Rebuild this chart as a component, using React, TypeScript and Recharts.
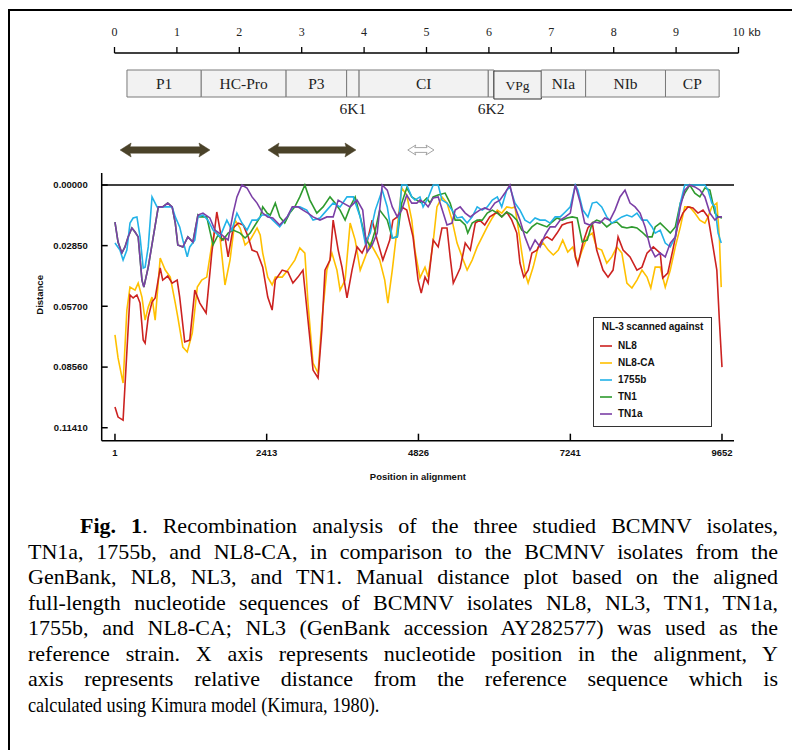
import React from 'react';
import { LineChart, Line, XAxis, YAxis, ReferenceLine, ReferenceArea, Legend } from 'recharts';

const SANS = '"Liberation Sans", Arial, sans-serif';
const SERIF = '"Liberation Serif", "Times New Roman", serif';

// ---- genome map (kb) ----
const KB_TICKS = [0, 1, 2, 3, 4, 5, 6, 7, 8, 9, 10];
const GENE_NAMES = ['P1', 'HC-Pro', 'P3', '6K1', 'CI', '6K2', 'VPg', 'NIa', 'NIb', 'CP'];
const GENE_BOUNDS_KB = [0.2, 1.39, 2.75, 3.72, 3.92, 5.99, 6.08, 6.84, 7.55, 8.83, 9.69];
const RECOMB_START_KB = [0.09, 2.46, 4.7];
const RECOMB_END_KB = [1.53, 3.87, 5.12];
const RECOMB_SUPPORTED = [true, true, false];

// ---- distance plot ----
const POSITION_TICKS = [1, 2413, 4826, 7241, 9652];
const DISTANCE_TICKS = [0, 0.0285, 0.057, 0.0856, 0.1141];

const SERIES_NAMES = ['NL8', 'NL8-CA', '1755b', 'TN1', 'TN1a'];
const SERIES_COLORS = ['#CC2220', '#FFC000', '#22B2E8', '#2E9A2E', '#7B3FA6'];
const DRAW_ORDER = ['NL8-CA', 'NL8', 'TN1', '1755b', 'TN1a'];

const NL8: number[][] = [
  [1,0.1044],[50,0.1091],[130,0.1105],[240,0.0517],[290,0.0531],[350,0.0517],[400,0.0555],[450,0.0729],[480,0.0743],
  [530,0.0621],[590,0.0550],[640,0.0531],[720,0.0390],[760,0.0447],[840,0.0428],[910,0.0461],[990,0.0447],[1030,0.0527],
  [1110,0.0738],[1190,0.0729],[1270,0.0494],[1350,0.0555],[1450,0.0602],[1540,0.0320],[1620,0.0127],[1700,0.0259],
  [1750,0.0244],[1800,0.0338],[1880,0.0202],[1960,0.0179],[2040,0.0188],[2120,0.0244],[2180,0.0306],[2260,0.0315],
  [2350,0.0386],[2430,0.0527],[2500,0.0588],[2550,0.0447],[2660,0.0400],[2750,0.0409],[2830,0.0461],[2910,0.0433],
  [2990,0.0400],[3070,0.0635],[3150,0.0870],[3230,0.0907],[3290,0.0682],[3340,0.0400],[3420,0.0353],[3470,0.0165],
  [3550,0.0306],[3610,0.0386],[3690,0.0531],[3770,0.0400],[3850,0.0291],[3930,0.0320],[4010,0.0268],[4090,0.0165],
  [4170,0.0259],[4260,0.0353],[4370,0.0259],[4420,0.0165],[4490,0.0150],[4560,0.0103],[4640,0.0118],[4740,0.0244],
  [4820,0.0447],[4870,0.0508],[4930,0.0433],[4980,0.0461],[5060,0.0259],[5140,0.0291],[5200,0.0202],[5280,0.0202],
  [5330,0.0338],[5380,0.0461],[5440,0.0423],[5490,0.0390],[5570,0.0273],[5650,0.0306],[5730,0.0179],[5800,0.0165],
  [5880,0.0188],[5960,0.0150],[6080,0.0127],[6150,0.0150],[6230,0.0127],[6310,0.0165],[6390,0.0226],[6440,0.0367],
  [6500,0.0433],[6570,0.0400],[6630,0.0320],[6710,0.0306],[6790,0.0259],[6870,0.0244],[6950,0.0259],[7030,0.0226],
  [7110,0.0188],[7190,0.0179],[7270,0.0174],[7320,0.0338],[7360,0.0376],[7440,0.0273],[7520,0.0202],[7590,0.0179],
  [7660,0.0306],[7760,0.0400],[7840,0.0433],[7920,0.0400],[8000,0.0244],[8080,0.0306],[8190,0.0338],[8300,0.0400],
  [8380,0.0386],[8460,0.0320],[8560,0.0291],[8670,0.0320],[8710,0.0437],[8790,0.0414],[8870,0.0306],[8950,0.0188],
  [9030,0.0132],[9110,0.0103],[9190,0.0108],[9270,0.0132],[9350,0.0118],[9430,0.0150],[9510,0.0291],[9570,0.0400],
  [9610,0.0635],[9652,0.0856],
];

const NL8_CA: number[][] = [
  [1,0.0705],[50,0.0813],[130,0.0931],[190,0.0588],[240,0.0480],[320,0.0494],[370,0.0461],[430,0.0527],[480,0.0635],
  [530,0.0574],[590,0.0527],[640,0.0635],[720,0.0343],[800,0.0400],[880,0.0433],[960,0.0555],[1000,0.0621],[1080,0.0762],
  [1150,0.0785],[1230,0.0696],[1310,0.0480],[1380,0.0447],[1460,0.0433],[1540,0.0282],[1590,0.0212],[1670,0.0244],
  [1750,0.0470],[1830,0.0353],[1910,0.0165],[1990,0.0202],[2070,0.0282],[2150,0.0259],[2260,0.0202],[2310,0.0235],
  [2350,0.0320],[2430,0.0433],[2500,0.0470],[2550,0.0433],[2660,0.0433],[2750,0.0400],[2860,0.0353],[2940,0.0296],
  [3020,0.0320],[3070,0.0555],[3150,0.0837],[3230,0.0884],[3290,0.0635],[3370,0.0400],[3450,0.0320],[3530,0.0400],
  [3580,0.0494],[3660,0.0447],[3740,0.0179],[3820,0.0259],[3900,0.0400],[3980,0.0338],[4060,0.0273],[4140,0.0315],
  [4210,0.0353],[4290,0.0447],[4340,0.0555],[4410,0.0400],[4490,0.0197],[4560,0.0014],[4640,0.0047],[4720,0.0165],
  [4770,0.0306],[4850,0.0437],[4930,0.0386],[4980,0.0433],[5060,0.0268],[5120,0.0103],[5200,0.0056],[5280,0.0085],
  [5360,0.0165],[5440,0.0273],[5520,0.0338],[5600,0.0400],[5680,0.0353],[5760,0.0291],[5840,0.0244],[5920,0.0197],
  [6000,0.0155],[6080,0.0118],[6150,0.0132],[6230,0.0103],[6310,0.0108],[6360,0.0103],[6410,0.0197],[6470,0.0320],
  [6520,0.0414],[6570,0.0461],[6650,0.0386],[6730,0.0291],[6810,0.0273],[6890,0.0306],[6970,0.0329],[7050,0.0306],
  [7120,0.0259],[7200,0.0315],[7280,0.0291],[7360,0.0367],[7430,0.0306],[7510,0.0244],[7590,0.0226],[7660,0.0296],
  [7740,0.0306],[7820,0.0367],[7900,0.0338],[7980,0.0291],[8060,0.0320],[8140,0.0461],[8220,0.0484],[8300,0.0447],
  [8380,0.0400],[8460,0.0433],[8520,0.0484],[8590,0.0386],[8670,0.0386],[8750,0.0480],[8830,0.0400],[8910,0.0291],
  [8990,0.0197],[9060,0.0103],[9140,0.0103],[9220,0.0132],[9300,0.0165],[9380,0.0179],[9430,0.0150],[9490,0.0103],
  [9570,0.0085],[9610,0.0244],[9640,0.0480],
];

const B1755: number[][] = [
  [1,0.0273],[80,0.0306],[130,0.0353],[190,0.0306],[240,0.0179],[290,0.0155],[350,0.0150],[400,0.0244],[450,0.0390],
  [480,0.0386],[530,0.0291],[590,0.0056],[670,0.0103],[760,0.0103],[840,0.0103],[910,0.0103],[960,0.0150],[1030,0.0197],
  [1080,0.0259],[1150,0.0338],[1190,0.0291],[1270,0.0259],[1320,0.0150],[1400,0.0141],[1480,0.0165],[1560,0.0212],
  [1670,0.0244],[1780,0.0165],[1860,0.0212],[1940,0.0132],[2020,0.0179],[2100,0.0212],[2180,0.0165],[2260,0.0165],
  [2340,0.0141],[2430,0.0141],[2510,0.0165],[2620,0.0197],[2740,0.0150],[2830,0.0103],[2940,0.0103],[3050,0.0118],
  [3150,0.0165],[3260,0.0155],[3370,0.0118],[3470,0.0085],[3580,0.0103],[3690,0.0056],[3790,0.0056],[3900,0.0150],
  [3980,0.0273],[4060,0.0226],[4140,0.0118],[4250,0.0024],[4330,0.0103],[4410,0.0249],[4490,0.0244],[4560,0],
  [4640,0],[4720,0.0056],[4770,0.0071],[4850,0.0056],[4900,0.0103],[4980,0.0061],[5060,0],[5140,0],[5200,0.0071],
  [5280,0.0085],[5360,0.0118],[5440,0.0155],[5520,0.0150],[5600,0.0179],[5680,0.0150],[5760,0.0103],[5840,0.0118],
  [5920,0.0103],[6000,0.0071],[6080,0.0056],[6150,0.0103],[6230,0.0024],[6280,0.0009],[6360,0.0085],[6440,0.0118],
  [6520,0.0165],[6600,0.0179],[6680,0.0155],[6760,0.0165],[6840,0.0165],[6920,0.0179],[7000,0.0150],[7080,0.0150],
  [7160,0.0127],[7240,0.0103],[7320,0],[7360,0.0024],[7440,0.0118],[7520,0.0150],[7590,0.0085],[7660,0.0080],
  [7740,0.0103],[7820,0.0150],[7900,0.0179],[7980,0.0165],[8060,0.0150],[8140,0.0141],[8220,0.0150],[8300,0.0132],
  [8380,0.0165],[8460,0.0165],[8540,0.0197],[8590,0.0226],[8670,0.0212],[8750,0.0273],[8830,0.0291],[8910,0.0244],
  [8990,0.0085],[9060,0],[9380,0],[9430,0.0024],[9490,0.0085],[9540,0.0103],[9590,0.0226],[9640,0.0273],
];

const TN1: number[][] = [
  [1,0.0174],[50,0.0268],[110,0.0320],[160,0.0291],[210,0.0244],[270,0.0202],[320,0.0221],[370,0.0244],[430,0.0447],
  [460,0.0480],[530,0.0386],[610,0.0244],[690,0.0103],[760,0.0103],[840,0.0085],[910,0.0103],[960,0.0179],[1000,0.0282],
  [1080,0.0291],[1160,0.0244],[1240,0.0268],[1320,0.0141],[1350,0.0150],[1460,0.0150],[1560,0.0282],[1640,0.0235],
  [1720,0.0259],[1800,0.0226],[1880,0.0212],[1990,0.0226],[2070,0.0249],[2150,0.0226],[2230,0.0188],[2310,0.0150],
  [2350,0.0103],[2420,0.0132],[2470,0.0141],[2550,0.0085],[2620,0.0150],[2700,0.0179],[2780,0.0132],[2860,0.0103],
  [2940,0.0056],[3020,0],[3100,0.0071],[3210,0.0132],[3310,0.0103],[3420,0.0056],[3500,0.0085],[3580,0.0118],
  [3660,0.0165],[3740,0.0103],[3820,0.0056],[3900,0.0150],[3980,0.0244],[4060,0.0291],[4140,0.0212],[4210,0.0118],
  [4330,0.0165],[4410,0.0249],[4490,0.0244],[4560,0.0085],[4640,0.0014],[4720,0.0056],[4800,0.0071],[4880,0.0085],
  [4960,0.0061],[5010,0.0085],[5060,0.0056],[5140,0.0047],[5250,0.0038],[5330,0.0085],[5410,0.0165],[5490,0.0165],
  [5570,0.0188],[5610,0.0226],[5680,0.0179],[5760,0.0165],[5840,0.0165],[5920,0.0132],[6000,0.0118],[6080,0.0132],
  [6150,0.0150],[6230,0.0127],[6310,0.0141],[6390,0.0165],[6470,0.0212],[6550,0.0226],[6630,0.0197],[6710,0.0179],
  [6790,0.0188],[6870,0.0197],[6950,0.0174],[7030,0.0155],[7110,0.0165],[7190,0.0155],[7270,0.0150],[7350,0.0155],
  [7430,0.0268],[7510,0.0259],[7590,0.0179],[7660,0.0165],[7740,0.0174],[7820,0.0197],[7900,0.0179],[7980,0.0174],
  [8060,0.0197],[8140,0.0202],[8220,0.0197],[8300,0.0202],[8380,0.0221],[8460,0.0244],[8540,0.0244],[8590,0.0197],
  [8670,0.0179],[8750,0.0202],[8830,0.0226],[8910,0.0197],[8990,0.0085],[9060,0.0038],[9140,0],[9220,0.0038],
  [9300,0.0056],[9380,0.0014],[9460,0.0024],[9540,0.0132],[9590,0.0150],[9652,0.0155],
];

const TN1A: number[][] = [
  [1,0.0174],[50,0.0268],[110,0.0320],[160,0.0291],[210,0.0244],[270,0.0202],[320,0.0221],[370,0.0244],[430,0.0447],
  [460,0.0480],[530,0.0386],[610,0.0244],[690,0.0103],[760,0.0103],[840,0.0085],[910,0.0103],[960,0.0179],[1000,0.0282],
  [1080,0.0291],[1160,0.0244],[1240,0.0268],[1320,0.0141],[1400,0.0132],[1510,0.0155],[1590,0.0212],[1700,0.0235],
  [1800,0.0259],[1880,0.0132],[1940,0.0056],[2020,0],[2100,0.0014],[2180,0.0056],[2260,0.0085],[2350,0.0132],
  [2430,0.0150],[2510,0.0155],[2620,0.0188],[2740,0.0150],[2820,0.0103],[2910,0.0103],[2990,0.0118],[3070,0.0132],
  [3150,0.0150],[3260,0.0165],[3370,0.0150],[3470,0.0150],[3550,0.0071],[3630,0.0085],[3740,0.0103],[3850,0.0071],
  [3940,0.0118],[4010,0.0315],[4090,0.0282],[4170,0.0226],[4250,0],[4330,0.0024],[4410,0.0103],[4490,0.0150],
  [4560,0.0118],[4640,0.0047],[4720,0.0085],[4800,0.0085],[4850,0.0071],[4930,0.0085],[4980,0.0103],[5060,0.0061],
  [5140,0.0056],[5220,0.0132],[5280,0.0188],[5360,0.0179],[5410,0.0118],[5490,0.0103],[5570,0.0132],[5650,0.0150],
  [5730,0.0132],[5800,0.0118],[5880,0.0108],[5960,0.0118],[6040,0.0085],[6120,0.0071],[6200,0.0038],[6280,0],
  [6360,0.0103],[6440,0.0165],[6520,0.0244],[6600,0.0306],[6680,0.0259],[6760,0.0291],[6840,0.0235],[6920,0.0197],
  [7000,0.0197],[7080,0.0165],[7160,0.0150],[7240,0.0132],[7320,0],[7400,0.0085],[7470,0.0179],[7550,0.0188],
  [7630,0.0174],[7710,0.0179],[7790,0.0155],[7870,0.0165],[7950,0.0118],[8030,0.0056],[8110,0.0024],[8190,0.0085],
  [8270,0.0103],[8350,0.0132],[8430,0.0197],[8510,0.0291],[8590,0.0338],[8670,0.0320],[8750,0.0338],[8830,0.0273],
  [8910,0.0244],[8990,0.0103],[9060,0.0024],[9140,0],[9220,0.0009],[9300,0.0024],[9380,0.0056],[9460,0.0132],
  [9540,0.0165],[9590,0.0150],[9652,0.0150],
];

const SERIES_POINTS: Record<string, number[][]> = {
  'NL8': NL8, 'NL8-CA': NL8_CA, '1755b': B1755, 'TN1': TN1, 'TN1a': TN1A,
};

const LEGEND_TITLE = 'NL-3 scanned against';
const X_LABEL = 'Position in alignment';
const Y_LABEL = 'Distance';

const CAPTION_BOLD = 'Fig. 1';
const CAPTION_LINES = [
  '. Recombination analysis of the three studied BCMNV isolates,',
  'TN1a, 1755b, and NL8-CA, in comparison to the BCMNV isolates from the',
  'GenBank, NL8, NL3, and TN1. Manual distance plot based on the aligned',
  'full-length nucleotide sequences of BCMNV isolates NL8, NL3, TN1, TN1a,',
  '1755b, and NL8-CA; NL3 (GenBank accession AY282577) was used as the',
  'reference strain. X axis represents nucleotide position in the alignment, Y',
  'axis represents relative distance from the reference sequence which is',
  'calculated using Kimura model (Kimura, 1980).',
];

const KbTick = (props: any) => {
  const { x, y, payload } = props;
  const last = payload.value === KB_TICKS[KB_TICKS.length - 1];
  return (
    <g>
      <text x={x} y={y} textAnchor="middle" fontFamily={SERIF} fontSize={12} fill="#222">{payload.value}</text>
      {last && <text x={x + 10} y={y} fontFamily={SANS} fontSize={11.5} fill="#222">kb</text>}
    </g>
  );
};

const ArrowShape = (props: any) => {
  const { x, y, width, height, solid } = props;
  const cy = y + height / 2;
  const head = solid ? 11 : 8;
  const body = solid ? 3.2 : 2.4;
  const pts = [
    [x, cy], [x + head, y], [x + head - 1, cy - body], [x + width - head + 1, cy - body], [x + width - head, y],
    [x + width, cy], [x + width - head, y + height], [x + width - head + 1, cy + body], [x + head - 1, cy + body], [x + head, y + height],
  ].map((p) => p.join(',')).join(' ');
  return (
    <polygon points={pts} fill={solid ? '#4A4229' : '#ffffff'} stroke={solid ? '#4A4229' : '#9a9a9a'} strokeWidth={solid ? 0.5 : 0.9} />
  );
};

const PosTick = (props: any) => {
  const { x, y, payload } = props;
  return (
    <g>
      <line x1={x} x2={x} y1={y} y2={y - 7} stroke="#000" strokeWidth={1.5} />
      <text x={x} y={y + 15} textAnchor="middle" fontFamily={SANS} fontWeight="bold" fontSize={9.5} fill="#111">{payload.value}</text>
    </g>
  );
};

const DistTick = (props: any) => {
  const { x, y, payload } = props;
  return (
    <g>
      <line x1={x} x2={x + 6} y1={y} y2={y} stroke="#000" strokeWidth={1.5} />
      <text x={x - 14} y={y + 3.4} textAnchor="end" fontFamily={SANS} fontWeight="bold" fontSize={9.5} fill="#111">
        {Number(payload.value).toFixed(5)}
      </text>
    </g>
  );
};

const LegendBox = (props: any) => {
  const payload: any[] = props.payload || [];
  const byName: Record<string, any> = {};
  payload.forEach((p) => { byName[p.value] = p; });
  return (
    <div style={{ boxSizing: 'border-box', width: 119, height: 110, border: '1.5px solid #333', background: '#fff',
      fontFamily: SANS, fontWeight: 'bold', fontSize: 10, color: '#111', position: 'relative' }}>
      <div style={{ position: 'absolute', top: 3, left: 0, right: 0, textAlign: 'center', lineHeight: '11px', letterSpacing: -0.1 }}>{LEGEND_TITLE}</div>
      {SERIES_NAMES.map((n, i) => {
        const p = byName[n];
        return (
          <div key={n} style={{ position: 'absolute', left: 6, top: 22 + i * 17, height: 12, display: 'flex', alignItems: 'center' }}>
            <svg width={12} height={4} style={{ display: 'block' }}>
              <line x1={0} x2={12} y1={2} y2={2} stroke={p ? p.color : SERIES_COLORS[i]} strokeWidth={1.6} />
            </svg>
            <span style={{ marginLeft: 6, lineHeight: '12px' }}>{n}</span>
          </div>
        );
      })}
    </div>
  );
};

export default function App() {
  const genomeData = KB_TICKS.map((kb) => ({ kb }));
  return (
    <div style={{ position: 'absolute', left: 0, top: 0, width: 792, height: 750, background: '#fff', overflow: 'hidden' }}>
      <div style={{ position: 'absolute', left: 7.5, top: 9, right: -4, bottom: -4, borderLeft: '2px solid #000', borderTop: '2px solid #000' }} />

      {/* genome map */}
      <div style={{ position: 'absolute', left: 0, top: 0 }}>
        <LineChart width={792} height={175} data={genomeData} margin={{ top: 23, right: 53.5, bottom: 0, left: 114.5 }}>
          <XAxis type="number" dataKey="kb" orientation="top" domain={[0, 10]} ticks={KB_TICKS} interval={0} height={30}
            axisLine={{ stroke: '#000', strokeWidth: 1.3 }} tickLine={{ stroke: '#000', strokeWidth: 1.3 }}
            tickSize={6} tickMargin={11} tick={(p: any) => <KbTick {...p} />} />
          <YAxis hide type="number" domain={[0, 122]} reversed allowDataOverflow />
          {GENE_NAMES.map((name, i) => {
            const x1 = GENE_BOUNDS_KB[i];
            const x2 = GENE_BOUNDS_KB[i + 1];
            const narrow = x2 - x1 < 0.3;
            const isVpg = name === 'VPg';
            return (
              <ReferenceArea key={name} x1={x1} x2={x2} y1={isVpg ? 18 : 17} y2={isVpg ? 46 : 44}
                fill="#f2f2f2" fillOpacity={1} stroke={isVpg ? '#333' : '#7a7a7a'} strokeWidth={1} ifOverflow="visible"
                label={{ value: name, position: narrow ? 'bottom' : 'center', offset: narrow ? 6 : 0,
                  fontFamily: SERIF, fontSize: isVpg ? 13.5 : 15.5, fill: '#222' }} />
            );
          })}
          {RECOMB_START_KB.map((s, i) => (
            <ReferenceArea key={'r' + i} x1={s} x2={RECOMB_END_KB[i]}
              y1={RECOMB_SUPPORTED[i] ? 90 : 92} y2={RECOMB_SUPPORTED[i] ? 104 : 102} ifOverflow="visible"
              shape={(p: any) => <ArrowShape {...p} solid={RECOMB_SUPPORTED[i]} />} />
          ))}
        </LineChart>
      </div>

      {/* distance plot */}
      <div style={{ position: 'absolute', left: 0, top: 0 }}>
        <LineChart width={792} height={500} margin={{ top: 173, right: 58, bottom: 14.3, left: 20 }}>
          <XAxis type="number" dataKey="pos" domain={[-210, 9843]} ticks={POSITION_TICKS} interval={0} allowDataOverflow
            height={45} axisLine={{ stroke: '#000', strokeWidth: 1.5 }} tickLine={false} tickSize={0} tickMargin={0}
            tick={(p: any) => <PosTick {...p} />}
            label={{ value: X_LABEL, position: 'insideBottom', offset: 6, fontFamily: SANS, fontWeight: 'bold', fontSize: 9.5, fill: '#111' }} />
          <YAxis type="number" domain={[-0.00564, 0.1202]} reversed ticks={DISTANCE_TICKS} interval={0} allowDataOverflow
            width={81.7} axisLine={{ stroke: '#000', strokeWidth: 1.5 }} tickLine={false} tickSize={0} tickMargin={0}
            tick={(p: any) => <DistTick {...p} />}
            label={{ value: Y_LABEL, angle: -90, position: 'insideLeft', offset: 20, dy: -12,
              style: { textAnchor: 'middle' }, fontFamily: SANS, fontWeight: 'bold', fontSize: 9.5, fill: '#111' }} />
          <ReferenceLine y={0} stroke="#000" strokeWidth={1.5} />
          {DRAW_ORDER.map((name) => {
            const i = SERIES_NAMES.indexOf(name);
            return (
              <Line key={name} name={name} data={SERIES_POINTS[name].map(([pos, d]) => ({ pos, d }))} dataKey="d"
                type="linear" stroke={SERIES_COLORS[i]} strokeWidth={1.6} dot={false} activeDot={false}
                isAnimationActive={false} />
            );
          })}
          <Legend layout="vertical" align="center" verticalAlign="middle" width={119} height={110}
            wrapperStyle={{ left: 593, top: 317, width: 119, height: 110 }} content={(p: any) => <LegendBox {...p} />} />
        </LineChart>
      </div>

      {/* caption */}
      <div style={{ position: 'absolute', left: 28, top: 513, width: 750, fontFamily: SERIF, fontSize: 22, color: '#000' }}>
        {CAPTION_LINES.map((line, i) => {
          const last = i === CAPTION_LINES.length - 1;
          return (
            <div key={i} style={{ height: 25.5, lineHeight: '25.5px', textAlign: last ? 'left' : 'justify',
              textAlignLast: last ? 'left' : 'justify', paddingLeft: i === 0 ? 52 : 0, whiteSpace: 'nowrap' as any,
              transform: last ? 'scaleX(0.83)' : undefined, transformOrigin: 'left center' }}>
              {i === 0 && <b>{CAPTION_BOLD}</b>}{line}
            </div>
          );
        })}
      </div>
    </div>
  );
}
